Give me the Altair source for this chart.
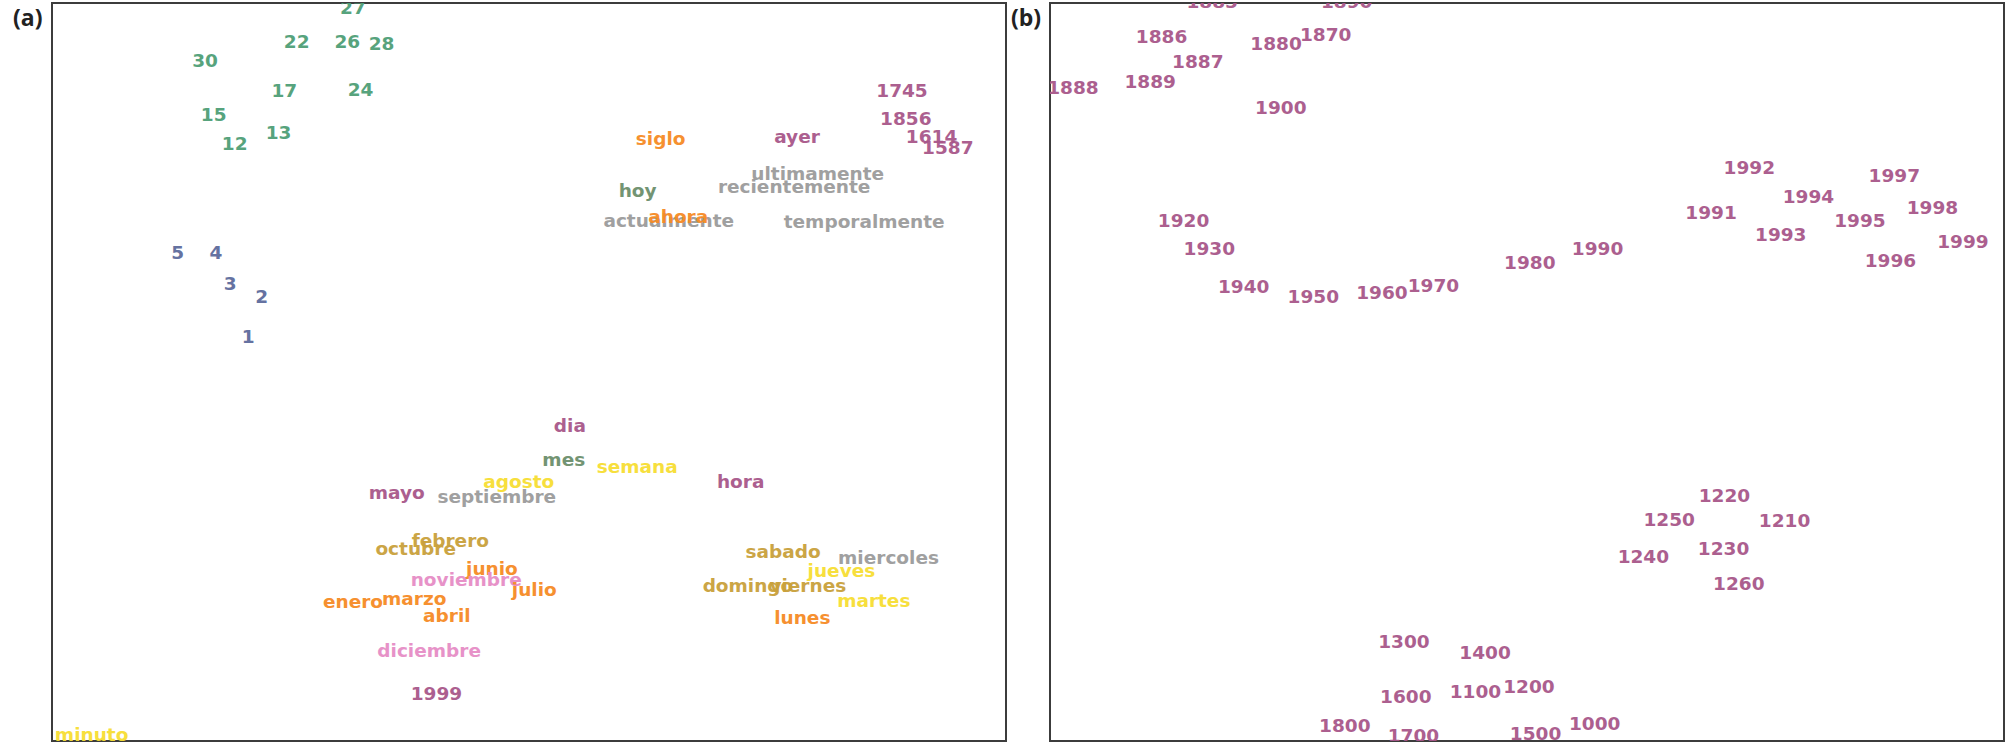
import altair as alt
import pandas as pd

# ---- panel (a): Spanish time words in a 2-D embedding ----
words_a = [
    "27", "22", "26", "28", "30", "17", "24", "15", "13", "12",
    "5", "4", "3", "2", "1",
    "1745", "1856", "1614", "1587",
    "siglo", "ayer", "ultimamente", "recientemente", "hoy",
    "actualmente", "ahora", "temporalmente",
    "dia", "mes", "semana", "hora",
    "mayo", "septiembre", "agosto",
    "octubre", "febrero", "junio", "noviembre", "julio",
    "enero", "marzo", "abril", "diciembre", "1999", "minuto",
    "sabado", "miercoles", "jueves", "domingo", "viernes", "martes", "lunes",
]
x_a = [
    30.2, 24.3, 29.6, 33.2, 14.7, 23.0, 31.0, 15.6, 22.4, 17.8,
    12.5, 16.5, 18.0, 21.3, 19.9,
    86.4, 86.8, 89.5, 91.2,
    61.2, 75.7, 73.3, 69.8, 59.4,
    57.8, 62.5, 76.7,
    52.6, 51.4, 57.1, 69.7,
    33.2, 40.4, 45.2,
    33.9, 37.7, 43.4, 37.6, 48.2,
    28.4, 34.6, 38.9, 34.1, 37.6, 0.3,
    72.7, 82.4, 79.2, 68.2, 75.2, 82.3, 75.7,
]
y_a = [
    98.5, 93.9, 93.9, 93.6, 91.3, 87.3, 87.4, 84.0, 81.6, 80.1,
    65.3, 65.3, 61.1, 59.3, 53.9,
    87.3, 83.5, 81.0, 79.5,
    80.8, 81.0, 76.0, 74.3, 73.7,
    69.6, 70.2, 69.5,
    41.9, 37.3, 36.3, 34.3,
    32.8, 32.2, 34.3,
    25.2, 26.3, 22.5, 21.0, 19.6,
    18.0, 18.4, 16.1, 11.4, 5.6, 0.0,
    24.8, 24.0, 22.2, 20.2, 20.2, 18.2, 15.9,
]
group_a = [
    "dia_mes", "dia_mes", "dia_mes", "dia_mes", "dia_mes",
    "dia_mes", "dia_mes", "dia_mes", "dia_mes", "dia_mes",
    "numero", "numero", "numero", "numero", "numero",
    "anio", "anio", "anio", "anio",
    "naranja", "anio", "gris", "gris", "verde",
    "gris", "naranja", "gris",
    "anio", "verde", "amarillo", "anio",
    "anio", "gris", "amarillo",
    "dorado", "dorado", "naranja", "rosa", "naranja",
    "naranja", "naranja", "naranja", "rosa", "anio", "amarillo",
    "dorado", "gris", "amarillo", "dorado", "dorado", "amarillo", "naranja",
]

# ---- panel (b): year tokens ----
years_b = [
    "1885", "1890", "1886", "1880", "1870", "1887", "1888", "1889", "1900",
    "1920", "1930", "1940", "1950", "1960", "1970", "1980", "1990",
    "1992", "1991", "1994", "1993", "1997", "1995", "1998", "1999", "1996",
    "1220", "1250", "1210", "1230", "1240", "1260",
    "1300", "1400", "1600", "1100", "1200", "1800", "1700", "1500", "1000",
]
x_b = [
    14.3, 28.4, 9.0, 21.0, 26.2, 12.8, -0.3, 7.8, 21.5,
    11.3, 14.0, 17.6, 24.9, 32.1, 37.5, 47.6, 54.7,
    70.6, 66.6, 76.8, 73.9, 85.8, 82.2, 89.8, 93.0, 85.4,
    68.0, 62.2, 74.3, 67.9, 59.5, 69.5,
    34.4, 42.9, 34.6, 41.9, 47.5, 28.2, 35.4, 48.2, 54.4,
]
y_b = [
    99.3, 99.3, 94.6, 93.6, 94.9, 91.2, 87.7, 88.5, 85.0,
    69.6, 65.9, 60.7, 59.3, 59.9, 60.8, 64.0, 65.9,
    76.8, 70.7, 72.9, 67.8, 75.7, 69.6, 71.4, 66.8, 64.2,
    32.4, 29.1, 29.0, 25.2, 24.1, 20.5,
    12.6, 11.1, 5.1, 5.8, 6.5, 1.2, -0.1, 0.1, 1.5,
]

group_names = ["dia_mes", "numero", "anio", "naranja", "gris",
               "verde", "amarillo", "dorado", "rosa"]
group_colors = ["#4f9f77", "#5d6b9c", "#a8578a", "#f68b25", "#9b9b9b",
                "#6c8f6c", "#f7de33", "#c9a13c", "#e68dc6"]

df_a = pd.DataFrame({"label": words_a, "x": x_a, "y": y_a, "group": group_a})
df_a["k"] = range(len(df_a))
df_b = pd.DataFrame({"label": years_b, "x": x_b, "y": y_b,
                     "group": ["anio"] * len(years_b)})
df_b["k"] = range(len(df_b))

x_scale = alt.Scale(domain=[0, 100], nice=False, zero=False)
y_scale = alt.Scale(domain=[0, 100], nice=False, zero=False)
color_scale = alt.Scale(domain=group_names, range=group_colors)


def panel(df, tag):
    words = alt.Chart(df).mark_text(
        font="DejaVu Sans", fontWeight="bold", fontSize=18.5,
        align="left", baseline="alphabetic", clip=True, opacity=0.95,
    ).encode(
        x=alt.X("x:Q", scale=x_scale, axis=None),
        y=alt.Y("y:Q", scale=y_scale, axis=None),
        text="label:N",
        color=alt.Color("group:N", scale=color_scale, legend=None),
        order=alt.Order("k:Q"),
    )
    letter = alt.Chart(pd.DataFrame({"t": [tag]})).mark_text(
        font="Open Sans", fontWeight="bold", fontSize=23, color="#222222",
        align="left", baseline="alphabetic",
    ).encode(x=alt.value(-39), y=alt.value(23), text="t:N")
    return alt.layer(words, letter).properties(width=954, height=738)


chart = alt.hconcat(
    panel(df_a, "(a)"), panel(df_b, "(b)"), spacing=44, bounds="flush"
).properties(
    padding={"left": 12, "top": 2, "right": 0, "bottom": 0},
    background="white",
).configure_view(
    stroke="#3c3c3c", strokeWidth=2
)

chart.save("out.html", embed_options={"renderer": "svg", "actions": False})
